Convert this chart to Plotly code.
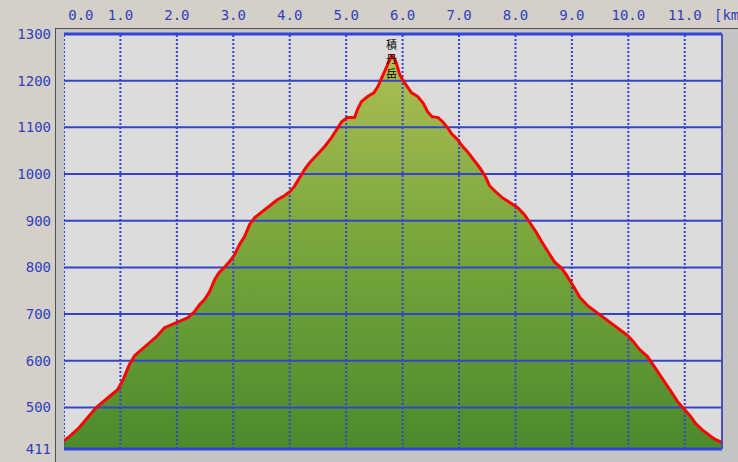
import plotly.graph_objects as go

# ---- data ----
dist_km = [0.00, 0.10, 0.27, 0.45, 0.57, 0.80, 0.95, 1.05, 1.16, 1.25, 1.37, 1.51, 1.66, 1.78, 1.90,
           2.04, 2.19, 2.31, 2.40, 2.49, 2.58, 2.67, 2.75, 2.84, 2.93, 3.02, 3.11, 3.20, 3.29, 3.38,
           3.50, 3.64, 3.78, 3.91, 4.00, 4.08, 4.17, 4.26, 4.35, 4.49, 4.62, 4.74, 4.85, 4.92, 5.02,
           5.15, 5.20, 5.27, 5.38, 5.49, 5.56, 5.63, 5.70, 5.77, 5.81, 5.88, 5.95, 6.02, 6.09, 6.16,
           6.27, 6.37, 6.44, 6.52, 6.63, 6.71, 6.80, 6.87, 6.98, 7.05, 7.15, 7.26, 7.37, 7.47, 7.54,
           7.65, 7.76, 7.90, 8.04, 8.16, 8.25, 8.36, 8.46, 8.57, 8.69, 8.82, 8.92, 9.03, 9.14, 9.28,
           9.42, 9.56, 9.71, 9.85, 9.99, 10.09, 10.20, 10.34, 10.45, 10.56, 10.66, 10.77, 10.87, 10.98,
           11.09, 11.19, 11.30, 11.44, 11.55, 11.66]
elev_m = [429, 438, 457, 483, 500, 523, 538, 560, 592, 611, 624, 639, 654, 671, 677,
          683, 692, 705, 720, 731, 748, 774, 789, 800, 812, 827, 849, 866, 892, 907,
          919, 932, 945, 954, 962, 973, 992, 1009, 1024, 1041, 1059, 1078, 1099, 1112, 1121,
          1121, 1138, 1155, 1166, 1174, 1187, 1206, 1228, 1245, 1255, 1241, 1213, 1198, 1185, 1174,
          1166, 1151, 1134, 1123, 1121, 1112, 1099, 1086, 1073, 1061, 1048, 1031, 1013, 994, 975,
          962, 950, 939, 928, 913, 898, 877, 856, 834, 812, 798, 781, 759, 736, 718,
          705, 692, 679, 666, 654, 641, 624, 609, 590, 570, 553, 532, 513, 498,
          483, 466, 453, 440, 431, 425]

x_ticks = [0, 1, 2, 3, 4, 5, 6, 7, 8, 9, 10, 11]
x_tick_text = ["\u00a0\u00a0\u00a0\u00a00.0", "1.0", "2.0", "3.0", "4.0", "5.0", "6.0",
               "7.0", "8.0", "9.0", "10.0", "11.0"]
y_ticks = [411, 500, 600, 700, 800, 900, 1000, 1100, 1200, 1300]
y_grid = [500, 600, 700, 800, 900, 1000, 1100, 1200]
x_range = [0, 11.66]
y_range = [411, 1300]
peak_name = "積<br>丹<br>岳"
peak_km, peak_label_y = 5.81, 1248
unit_label = "[km]"

BLUE = "#3344cc"
TXT = "#2f40bf"

fig = go.Figure()

# gradient-filled profile
fig.add_trace(go.Scatter(
    x=dist_km, y=elev_m, mode="lines", line=dict(width=0, color="rgba(0,0,0,0)"),
    fill="tozeroy",
    fillgradient=dict(type="vertical", start=411, stop=1300,
                      colorscale=[[0, "#4a8b2c"], [0.5, "#7aa63c"], [1, "#b2c258"]]),
    hoverinfo="skip", showlegend=False))

# grid lines drawn above the fill
hx, hy = [], []
for g in y_grid:
    hx += [x_range[0], x_range[1], None]
    hy += [g, g, None]
fig.add_trace(go.Scatter(x=hx, y=hy, mode="lines", line=dict(color=BLUE, width=2),
                         hoverinfo="skip", showlegend=False))
vx, vy = [], []
for t in x_ticks:
    vx += [t, t, None]
    vy += [y_range[0], y_range[1], None]
fig.add_trace(go.Scatter(x=vx, y=vy, mode="lines", line=dict(color=BLUE, width=2, dash="2px,2px"),
                         hoverinfo="skip", showlegend=False))

# red profile line
fig.add_trace(go.Scatter(x=dist_km, y=elev_m, mode="lines", line=dict(color="#ff0000", width=3),
                         hoverinfo="skip", showlegend=False))

W, H = 738, 462
L, R, T, B = 64, 16, 34, 13
pw, ph = W - L - R, H - T - B

def px2paper_x(px):
    return (px - L) / pw

def px2paper_y(py):
    return (H - B - py) / ph

shapes = [
    dict(type="rect", xref="paper", yref="paper", layer="below",
         x0=px2paper_x(55), x1=px2paper_x(740), y0=px2paper_y(464), y1=px2paper_y(28),
         fillcolor="#c4c4c4", line=dict(width=0)),
    dict(type="line", xref="paper", yref="paper", layer="below",
         x0=px2paper_x(55.5), x1=px2paper_x(55.5), y0=px2paper_y(464), y1=px2paper_y(28),
         line=dict(color="#505050", width=1)),
    dict(type="line", xref="paper", yref="paper", layer="below",
         x0=px2paper_x(55), x1=px2paper_x(740), y0=px2paper_y(28.5), y1=px2paper_y(28.5),
         line=dict(color="#505050", width=1)),
    dict(type="rect", xref="paper", yref="paper", layer="below",
         x0=0, x1=1, y0=0, y1=1, fillcolor="#dcdcdc", line=dict(width=0)),
    # borders
    dict(type="line", xref="paper", yref="paper", x0=0, x1=1, y0=1, y1=1,
         line=dict(color="#3344dd", width=3)),
    dict(type="line", xref="paper", yref="paper", x0=0, x1=1, y0=0, y1=0,
         line=dict(color="#3344dd", width=3)),
    dict(type="line", xref="paper", yref="paper", x0=1, x1=1, y0=0, y1=1,
         line=dict(color="#4a50b8", width=2)),
]

fig.update_layout(
    width=W, height=H,
    margin=dict(l=L, r=R, t=T, b=B, pad=0, autoexpand=False),
    paper_bgcolor="#d4d0c8", plot_bgcolor="#dcdcdc",
    shapes=shapes,
    xaxis=dict(range=x_range, side="top", tickvals=x_ticks, ticktext=x_tick_text,
               showgrid=False, zeroline=False, showline=False, ticks="",
               ticklabelstandoff=10, automargin=False,
               tickfont=dict(family="DejaVu Sans Mono", size=14, color=TXT),
               fixedrange=True),
    yaxis=dict(range=y_range, tickvals=y_ticks, ticktext=[str(v) for v in y_ticks],
               showgrid=False, zeroline=False, showline=False, ticks="",
               ticklabelstandoff=12, automargin=False,
               tickfont=dict(family="DejaVu Sans Mono", size=14, color=TXT),
               fixedrange=True),
    annotations=[
        dict(x=peak_km, y=peak_label_y, xref="x", yref="y", text=peak_name, showarrow=False,
             font=dict(family="Noto Sans CJK JP", size=11, color="#000000"),
             xanchor="center", yanchor="middle"),
        dict(x=px2paper_x(712), y=px2paper_y(15), xref="paper", yref="paper", text=unit_label,
             showarrow=False, xanchor="left", yanchor="middle",
             font=dict(family="DejaVu Sans Mono", size=14, color=TXT)),
    ],
)

fig.write_html("out.html", config={"displayModeBar": False},
               post_script="document.body.style.margin='0';document.body.style.overflow='hidden';")
